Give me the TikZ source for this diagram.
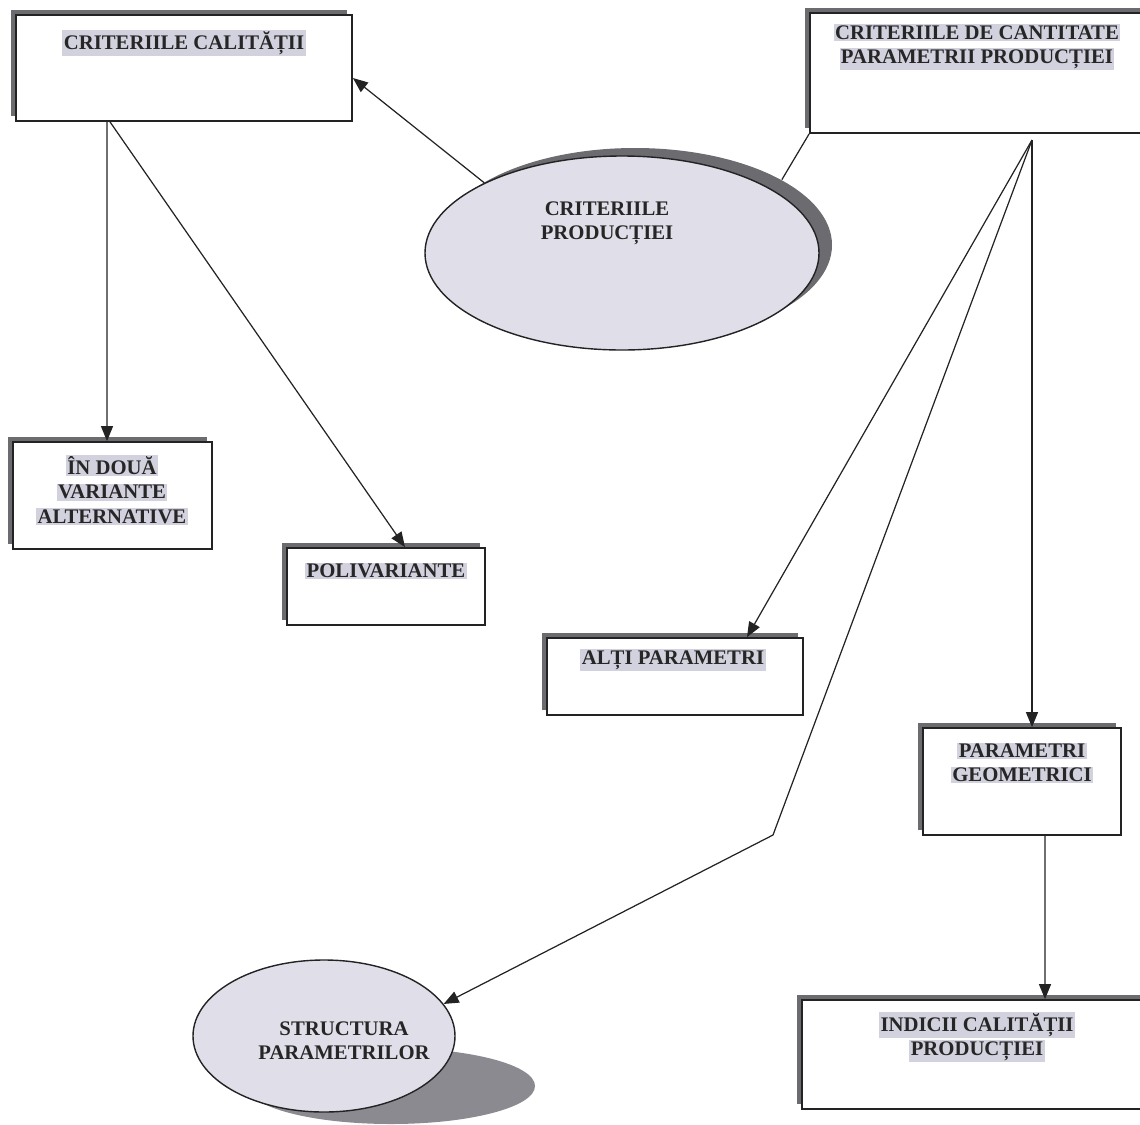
\documentclass[tikz,border=0pt]{standalone}
\usepackage{fontspec}
\setmainfont{Liberation Serif}
\usetikzlibrary{shapes.geometric,arrows.meta,fit,shadows}

\definecolor{umbra}{RGB}{108,108,112}
\definecolor{umbrajos}{RGB}{138,138,144}
\definecolor{evid}{RGB}{210,209,222}
\definecolor{elips}{RGB}{224,223,233}
\definecolor{linie}{RGB}{35,35,35}

\def\pxunit{0.2mm}
\newcommand{\hl}[1]{\colorbox{evid}{#1}}
\setlength{\fboxsep}{0.8pt}

\tikzset{
  kutie/.style={draw=linie, line width=1pt, fill=white, inner sep=0pt,
    general shadow={fill=umbra, shadow xshift=-1mm, shadow yshift=1mm}},
  elipsa/.style={ellipse, draw=linie, line width=0.8pt, fill=elips, inner sep=0pt},
  eticheta/.style={font=\fontsize{11.8}{13.8}\selectfont\bfseries, align=center,
    inner sep=0pt, text=black!85},
  sageata/.style={draw=linie, line width=0.7pt, -{Triangle[length=3mm,width=2.4mm]}},
  legatura/.style={draw=linie, line width=0.7pt}
}

\begin{document}
\begin{tikzpicture}[x=\pxunit, y=-\pxunit]
  \useasboundingbox (0,0) rectangle (1140,1124);

  % casetele
  \node[kutie, fit={(16,15) (352,121)}] (calit) {};
  \node[kutie, fit={(810,13) (1150,133)}] (cant) {};
  \node[kutie, fit={(13,442) (212,549)}] (doua) {};
  \node[kutie, fit={(287,548) (485,625)}] (poli) {};
  \node[kutie, fit={(547,638) (803,715)}] (alti) {};
  \node[kutie, fit={(923,728) (1121,835)}] (geom) {};
  \node[kutie, fit={(802,1000) (1150,1109)}] (indic) {};

  % elipsele
  \node[elipsa, general shadow={fill=umbra, shadow xshift=2.6mm, shadow yshift=1.6mm},
    minimum width=78.8mm, minimum height=38.8mm] (prod) at (622,253) {};
  \fill[umbrajos] (391,1086) ellipse [x radius=144, y radius=38];
  \node[elipsa, minimum width=52.4mm, minimum height=30.4mm] (struct) at (324,1036) {};

  % texte
  \node[eticheta] (tcalit) at (184,43) {\hl{CRITERIILE CALITĂȚII}};
  \node[eticheta] (tcant) at (977,47) {\hl{CRITERIILE DE CANTITATE}\\\hl{PARAMETRII PRODUCȚIEI}};
  \node[eticheta] (tprod) at (607,223) {CRITERIILE\\PRODUCȚIEI};
  \node[eticheta] (tdoua) at (112,490) {\hl{ÎN DOUĂ}\\\hl{VARIANTE}\\\hl{ALTERNATIVE}};
  \node[eticheta] (tpoli) at (386,571) {\hl{POLIVARIANTE}};
  \node[eticheta] (talti) at (673,660) {\hl{ALȚI PARAMETRI}};
  \node[eticheta] (tgeom) at (1022,763) {\hl{PARAMETRI}\\\hl{GEOMETRICI}};
  \node[eticheta] (tindic) at (977,1037) {\hl{INDICII CALITĂȚII}\\\hl{PRODUCȚIEI}};
  \node[eticheta] (tstruct) at (344,1041) {STRUCTURA\\PARAMETRILOR};

  % legaturi
  \coordinate (fan) at (1032,140);
  \coordinate (cot) at (773,835);
  \draw[sageata] ([xshift=-15.4mm]calit.south) -- ([xshift=-1.1mm]doua.north);
  \draw[sageata] ([xshift=-14.8mm]calit.south) -- ([xshift=3.8mm]poli.north);
  \draw[sageata] (prod.153) -- ([yshift=-2mm]calit.east);
  \draw[legatura] ([shift={(2.6mm,1.6mm)}]prod.24) -- (cant.south west);
  \draw[sageata] (fan) -- ([xshift=14.4mm]alti.north);
  \draw[sageata] (fan) -- (fan |- geom.north);
  \draw[sageata] (fan) -- (cot) -- (struct.15);
  \draw[sageata] ([xshift=4.6mm]geom.south) -- ([xshift=13.8mm]indic.north);
\end{tikzpicture}
\end{document}
